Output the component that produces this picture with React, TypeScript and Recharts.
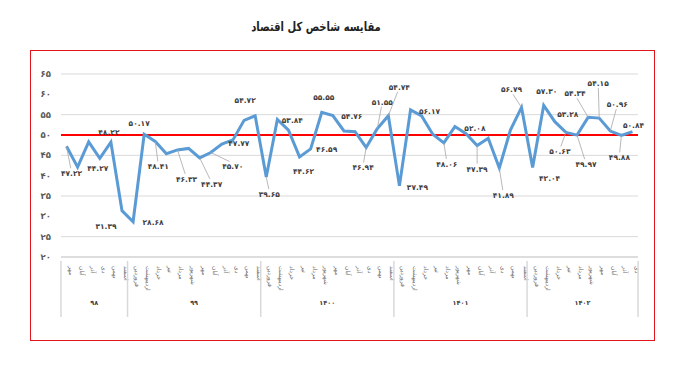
import React from 'react';
import { LineChart, Line, XAxis, YAxis, CartesianGrid, ReferenceLine, LabelList } from 'recharts';

const monthNames = ['فروردین', 'اردیبهشت', 'خرداد', 'تیر', 'مرداد', 'شهریور', 'مهر', 'آبان', 'آذر', 'دی', 'بهمن', 'اسفند'];
const years = ['۹۸', '۹۹', '۱۴۰۰', '۱۴۰۱', '۱۴۰۲'];
const yearMonths = [monthNames.slice(6), monthNames, monthNames, monthNames, monthNames.slice(0, 10)];

const values = [
  47.22, 42.1, 48.3, 44.27, 48.22, 31.39,
  28.68, 50.17, 48.41, 45.4, 46.33, 46.7, 44.37, 45.7, 47.77, 48.8, 53.6, 54.72,
  39.65, 53.84, 51.2, 44.62, 46.59, 55.55, 54.76, 51.0, 50.8, 46.94, 51.55, 54.74,
  37.49, 56.17, 54.7, 50.2, 48.06, 52.08, 50.3, 47.39, 49.2, 41.89, 51.2, 56.79,
  42.04, 57.3, 53.28, 50.63, 49.97, 54.34, 54.15, 50.96, 49.88, 50.84,
];

const yTicks = [20, 25, 30, 35, 40, 45, 50, 55, 60, 65];

// data label placement (offset of the label centre from its point), only for labelled points
const labelOffset: Record<number, [number, number]> = {
  0: [5, 27], 3: [-2, 10], 4: [-2, -10], 5: [-16, 15], 6: [20, 0], 7: [-5, -11], 8: [3, 25],
  10: [9, 29], 12: [12, 26], 13: [22, 14], 14: [17, -1], 17: [-10, -16], 18: [3, 17],
  19: [15, 1], 21: [4, 14], 22: [16, 0], 23: [2, -15], 24: [19, 0], 27: [-3, 20],
  28: [5, -27], 29: [11, -29], 30: [18, 1], 31: [19, 1], 34: [3, 21], 35: [20, 1],
  37: [0, 23], 39: [4, 27], 41: [-10, -18], 42: [17, 11], 43: [3, -14], 44: [13, -8],
  45: [-6, 19], 46: [9, 29], 47: [-13, -24], 48: [-1, -35], 49: [7, -27], 50: [-2, 22], 51: [1, -7],
};

const fa = (s: string) => s.replace(/\d/g, (d) => '۰۱۲۳۴۵۶۷۸۹'[+d]);

const months: string[] = [];
const yearIdx: number[] = [];
yearMonths.forEach((ms, yi) => ms.forEach((m) => { months.push(m); yearIdx.push(yi); }));

const data = values.map((v, i) => ({ id: `${yearIdx[i]}-${i}`, month: months[i], year: years[yearIdx[i]], value: v }));

const FONT = '"DejaVu Sans", sans-serif';

const MonthTick = (props: any) => {
  const { x, y, index, width } = props;
  const band = (width || 577) / data.length;
  const yi = yearIdx[index];
  const isStart = index === 0 || yearIdx[index - 1] !== yi;
  const isLast = index === data.length - 1;
  const groupLen = yearIdx.filter((k) => k === yi).length;
  return (
    <g>
      <text
        transform={`translate(${x + 2},${y + 1}) rotate(90)`}
        fontSize={6}
        fill="#6b6b6b"
        fontFamily={FONT}
        textAnchor="start"
      >
        {data[index].month}
      </text>
      {isStart && <line x1={x - band / 2} x2={x - band / 2} y1={y - 4} y2={y + 52} stroke="#d9d9d9" strokeWidth={1.5} />}
      {isLast && <line x1={x + band / 2} x2={x + band / 2} y1={y - 4} y2={y + 52} stroke="#d9d9d9" strokeWidth={1.5} />}
      {isStart && (
        <text x={x - band / 2 + (groupLen * band) / 2} y={y + 40} fontSize={6.5} fontWeight="bold" fill="#404040" fontFamily={FONT} textAnchor="middle">
          {years[yi]}
        </text>
      )}
    </g>
  );
};

const PointLabel = (props: any) => {
  const { x, y, index, value } = props;
  const off = labelOffset[index];
  if (!off) return null;
  const [dx, dy] = off;
  const text = fa(Number(value).toFixed(2));
  const far = Math.abs(dy) > 16 || Math.abs(dx) > 21;
  const ey = y + dy - Math.sign(dy) * 5;
  return (
    <g>
      {far && <line x1={x} y1={y} x2={x + dx * 0.85} y2={ey} stroke="#a6a6a6" strokeWidth={0.8} />}
      <text
        x={x + dx}
        y={y + dy + 3}
        textAnchor="middle"
        fontSize={7.5}
        fontWeight="bold"
        fill="#404040"
        fontFamily={FONT}
        letterSpacing={-0.3}
      >
        {text}
      </text>
    </g>
  );
};

export default function App() {
  return (
    <div style={{ position: 'absolute', left: 0, top: 0, width: 682, height: 379, background: '#fff', fontFamily: FONT }}>
      <div
        style={{
          position: 'absolute', left: 216, top: 19, width: 200, textAlign: 'center', fontSize: 12.5,
          fontWeight: 'bold', color: '#222', transform: 'scaleX(0.8)',
        }}
      >
        مقایسه شاخص کل اقتصاد
      </div>
      <div style={{ position: 'absolute', left: 30, top: 50, width: 625, height: 291, border: '1.5px solid #e3141b', boxSizing: 'border-box' }} />
      <div style={{ position: 'absolute', left: 0, top: 0 }}>
        <LineChart width={682} height={379} data={data} margin={{ top: 74, right: 44, bottom: 0, left: 0 }}>
          <CartesianGrid vertical={false} stroke="#d9d9d9" strokeWidth={1} />
          <XAxis
            dataKey="id"
            interval={0}
            height={122}
            padding={{ left: 5.5, right: 5.5 }}
            tick={<MonthTick />}
            tickLine={false}
            axisLine={{ stroke: '#d9d9d9', strokeWidth: 1.5 }}
          />
          <YAxis
            domain={[20, 65]}
            ticks={yTicks}
            width={61}
            axisLine={false}
            tickLine={false}
            tickSize={0}
            tickMargin={10}
            tickFormatter={(v: number) => fa(String(v))}
            tick={{ fontSize: 8.5, fontWeight: 'bold', fill: '#595959', fontFamily: FONT }}
          />
          <ReferenceLine y={50} stroke="#ff0000" strokeWidth={2} />
          <Line type="linear" dataKey="value" stroke="#5b9bd5" strokeWidth={3} dot={false} isAnimationActive={false}>
            <LabelList dataKey="value" content={<PointLabel />} />
          </Line>
        </LineChart>
      </div>
    </div>
  );
}
